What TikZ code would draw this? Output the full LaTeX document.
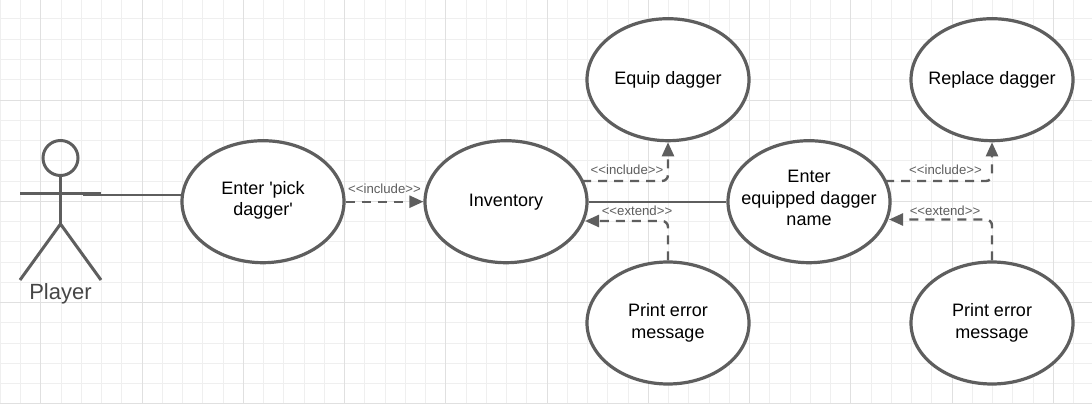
\documentclass[tikz,border=0pt]{standalone}
\usepackage{fontspec}
\setmainfont{Liberation Sans}
\usetikzlibrary{arrows.meta,calc,shapes.geometric}
\definecolor{ink}{HTML}{5E5E5E}
\definecolor{gridmin}{HTML}{EFEFEF}
\definecolor{gridmaj}{HTML}{E0E0E0}
\tikzset{
  x=1pt,y=-1pt,
  usecase/.style={ellipse,draw=ink,line width=3.2pt,fill=white,minimum width=162pt,minimum height=122pt,inner sep=-20pt,align=center,font=\fontsize{18}{21.5}\selectfont,text=black},
  limb/.style={draw=ink,line width=3pt},
  assoc/.style={draw=ink,line width=2.4pt},
  rel/.style={draw=ink,line width=2.4pt,dash pattern=on 9pt off 7pt,rounded corners=6pt,-{Triangle[length=14pt,width=12pt,fill=ink]}},
  stereo/.style={font=\fontsize{13.2}{15}\selectfont,text=ink,inner sep=0pt},
}
\begin{document}
\begin{tikzpicture}
\useasboundingbox (0,0) rectangle (1092,404);
\fill[white] (0,0) rectangle (1092,404);
% grid
\foreach \i in {0,...,53}{\draw[gridmin,line width=1pt] ({0.3+\i*20.25},0) -- ({0.3+\i*20.25},404);}
\foreach \i in {0,...,20}{\draw[gridmin,line width=1pt] (0,{-1.25+\i*20.25}) -- (1092,{-1.25+\i*20.25});}
\foreach \i in {0,...,10}{\draw[gridmaj,line width=1pt] ({40.8+\i*101.25},0) -- ({40.8+\i*101.25},404);}
\foreach \i in {0,...,3}{\draw[gridmaj,line width=1pt] (0,{100+\i*101.25}) -- (1092,{100+\i*101.25});}
% actor
\node[circle,draw=ink,line width=3pt,minimum size=35pt,inner sep=0pt] (head) at (60.5,158) {};
\coordinate (hip) at (60.5,224);
\coordinate (armL) at (20,193);
\coordinate (armR) at (101,193);
\coordinate (footL) at (20,280);
\coordinate (footR) at (101,280);
\coordinate (hand) at (83,195);
\draw[limb] (head.south) -- (hip);
\draw[limb] (armL) -- (armR);
\draw[limb] (footL) -- (hip) -- (footR);
\node[font=\fontsize{22}{24}\selectfont,text=ink!75!black,inner sep=0pt] (player) at (60.5,293.5) {Player};
% use cases
\node[usecase] (pick) at (263,201.7) {Enter \textquotesingle pick\\dagger\textquotesingle\rule[-6pt]{0pt}{1pt}};
\node[usecase] (inv) at (506,201.7) {Inventory};
\node[usecase] (name) at (809,201.7) {Enter\\equipped dagger\\name\rule[-7pt]{0pt}{1pt}};
\node[usecase] (equip) at (668,79.7) {Equip dagger};
\node[usecase] (replace) at (992,79.7) {Replace dagger};
\node[usecase] (err1) at (668,323) {Print error\\message};
\node[usecase] (err2) at (992,323) {Print error\\message};
% connectors
\coordinate (handEnd) at ($(pick.west |- hand)+(3,0)$);
\draw[assoc] (hand) -- (handEnd);
\draw[assoc] (inv.east) -- (name.west);
\draw[rel] (pick.east) -- (inv.west);
\coordinate (i1) at (582,181);
\coordinate (i2) at (885,181);
\coordinate (e1) at (585,221);
\coordinate (e2) at (889,219.5);
\draw[rel] (i1) -| (equip.south);
\draw[rel] (i2) -| (replace.south);
\draw[rel] (err1.north) |- (e1);
\draw[rel] (err2.north) |- (e2);
% labels
\node[stereo] (l1) at (384.5,189) {<{}<include>{}>};
\node[stereo] (l2) at (627,169.5) {<{}<include>{}>};
\node[stereo] (l3) at (637,210.5) {<{}<extend>{}>};
\node[stereo] (l4) at (945.5,169.5) {<{}<include>{}>};
\node[stereo] (l5) at (945,210.5) {<{}<extend>{}>};
\end{tikzpicture}
\end{document}
